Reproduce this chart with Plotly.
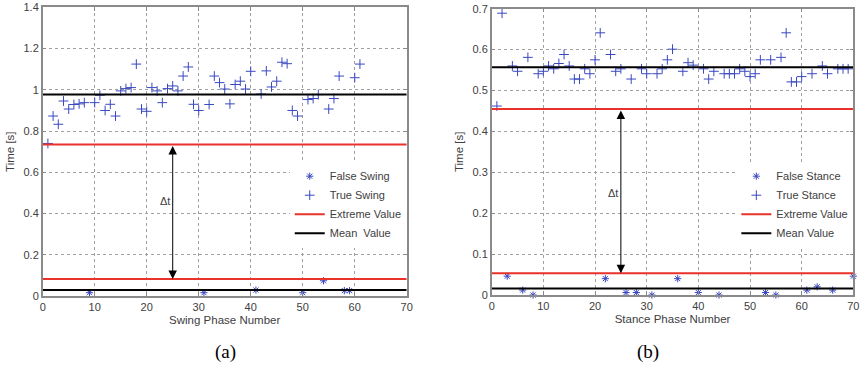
import plotly.graph_objects as go

# ---------------- data: (a) swing ----------------
swing_true_x = [1, 2, 3, 4, 5, 6, 7, 8, 10, 11, 12, 13, 14, 15, 16, 17, 18, 19, 20, 21,
                22, 23, 24, 25, 26, 27, 28, 29, 30, 32, 33, 34, 35, 36, 37, 38, 39, 40,
                42, 43, 44, 45, 46, 47, 48, 49, 51, 52, 53, 55, 56, 57, 60, 61]
swing_true_y = [0.74, 0.873, 0.833, 0.946, 0.907, 0.929, 0.932, 0.938, 0.938, 0.974,
                0.90, 0.93, 0.873, 0.995, 1.006, 1.011, 1.125, 0.907, 0.896, 1.011,
                0.995, 0.938, 1.006, 1.019, 0.995, 1.067, 1.111, 0.93, 0.90, 0.929,
                1.067, 1.035, 1.004, 0.932, 1.026, 1.042, 1.004, 1.09,
                0.98, 1.092, 1.014, 1.042, 1.134, 1.127, 0.90, 0.873, 0.953, 0.958,
                0.977, 0.907, 0.958, 1.067, 1.059, 1.125]
swing_false_x = [9, 31, 41, 50, 54, 58, 59]
swing_false_y = [0.016, 0.016, 0.029, 0.016, 0.074, 0.026, 0.026]
swing_extreme = [0.735, 0.082]
swing_mean = [0.977, 0.029]

# ---------------- data: (b) stance ----------------
stance_true_x = [1, 2, 4, 5, 7, 9, 10, 11, 12, 13, 14, 15, 16, 17, 18, 19, 20, 21, 23, 24,
                 25, 27, 29, 30, 32, 33, 34, 35, 37, 38, 39, 41, 42, 43, 45, 46, 47, 48,
                 49, 50, 51, 52, 54, 56, 57, 58, 59, 60, 62, 64, 65, 67, 68, 69]
stance_true_y = [0.462, 0.689, 0.56, 0.547, 0.581, 0.541, 0.547, 0.56, 0.553, 0.566,
                 0.588, 0.56, 0.528, 0.528, 0.553, 0.541, 0.575, 0.641, 0.588, 0.547,
                 0.553, 0.528, 0.553, 0.541, 0.541, 0.553, 0.575, 0.601, 0.547, 0.568,
                 0.562, 0.553, 0.528, 0.547, 0.541, 0.541, 0.541, 0.553, 0.547, 0.534,
                 0.541, 0.575, 0.575, 0.581, 0.641, 0.521, 0.521, 0.534, 0.541, 0.56,
                 0.541, 0.553, 0.553, 0.553]
stance_false_x = [3, 6, 8, 22, 26, 28, 31, 36, 40, 44, 53, 55, 61, 63, 66, 70]
stance_false_y = [0.046, 0.012, 0.0, 0.04, 0.006, 0.006, 0.0, 0.04, 0.006, 0.0,
                  0.006, 0.0, 0.012, 0.02, 0.012, 0.046]
stance_extreme = [0.455, 0.053]
stance_mean = [0.557, 0.016]

x_range = [0, 70]
delta_x = 25

BLUE = "#3a48c0"
RED = "#e8322a"
TXT = "#404040"
FONT = "Liberation Sans, Arial, sans-serif"

fig = go.Figure()


def hline_xy(levels):
    xs, ys = [], []
    for v in levels:
        xs += [x_range[0], x_range[1], None]
        ys += [v, v, None]
    return xs, ys


def add_panel(xa, ya, leg, fx, fy, tx, ty, ext, mean, names):
    fig.add_trace(go.Scatter(x=fx, y=fy, mode="markers", name=names[0],
                             xaxis=xa, yaxis=ya, legend=leg, cliponaxis=False,
                             marker=dict(symbol="asterisk-open", size=6, color=BLUE,
                                         line=dict(color=BLUE, width=1))))
    fig.add_trace(go.Scatter(x=tx, y=ty, mode="markers", name=names[1],
                             xaxis=xa, yaxis=ya, legend=leg, cliponaxis=False,
                             marker=dict(symbol="cross-thin-open", size=7, color=BLUE,
                                         line=dict(color=BLUE, width=1))))
    ex, ey = hline_xy(ext)
    fig.add_trace(go.Scatter(x=ex, y=ey, mode="lines", name=names[2],
                             xaxis=xa, yaxis=ya, legend=leg,
                             line=dict(color=RED, width=2)))
    mx, my = hline_xy(mean)
    fig.add_trace(go.Scatter(x=mx, y=my, mode="lines", name=names[3],
                             xaxis=xa, yaxis=ya, legend=leg,
                             line=dict(color="black", width=2)))


add_panel("x", "y", "legend", swing_false_x, swing_false_y, swing_true_x, swing_true_y,
          swing_extreme, swing_mean,
          ["False Swing", "True Swing", "Extreme Value", "Mean&nbsp; Value"])
add_panel("x2", "y2", "legend2", stance_false_x, stance_false_y, stance_true_x, stance_true_y,
          stance_extreme, stance_mean,
          ["False Stance", "True Stance", "Extreme Value", "Mean Value"])

axis_common = dict(
    showline=True, linecolor="#8a8a8a", linewidth=1.5, mirror="allticks",
    ticks="inside", ticklen=4, tickcolor="#8a8a8a",
    showgrid=True, gridcolor="#a0a0a0", griddash="dot", gridwidth=1,
    zeroline=False, tickfont=dict(family=FONT, size=11, color=TXT),
    automargin=False,
)

fig.update_layout(
    width=861, height=370,
    margin=dict(l=0, r=0, t=0, b=0),
    paper_bgcolor="white", plot_bgcolor="white",
    showlegend=True,
    xaxis=dict(axis_common, domain=[0.0496, 0.4724], range=x_range, dtick=10,
               title=dict(text="Swing Phase Number", standoff=4,
                          font=dict(family=FONT, size=11.5, color=TXT))),
    yaxis=dict(axis_common, domain=[0.2, 0.980], range=[0, 1.4], dtick=0.2,
               title=dict(text="Time [s]", standoff=6,
                          font=dict(family=FONT, size=11.5, color=TXT))),
    xaxis2=dict(axis_common, domain=[0.5711, 0.9911], range=x_range, dtick=10,
                anchor="y2",
                title=dict(text="Stance Phase Number", standoff=4,
                           font=dict(family=FONT, size=11.5, color=TXT))),
    yaxis2=dict(axis_common, domain=[0.2027, 0.9765], range=[0, 0.7], dtick=0.1,
                anchor="x2",
                title=dict(text="Time [s]", standoff=6,
                           font=dict(family=FONT, size=11.5, color=TXT))),
    legend=dict(x=0.4724, xanchor="right", y=0.563, yanchor="top",
                bgcolor="white", borderwidth=0,
                font=dict(family=FONT, size=11, color=TXT),
                tracegroupgap=0, itemwidth=30),
    legend2=dict(x=0.9911, xanchor="right", y=0.563, yanchor="top",
                 bgcolor="white", borderwidth=0,
                 font=dict(family=FONT, size=11, color=TXT),
                 tracegroupgap=0, itemwidth=30),
)

# delta-t arrows
for xa, ya, ext, lab_y in [("x", "y", swing_extreme, 0.46), ("x2", "y2", stance_extreme, 0.25)]:
    fig.add_annotation(x=delta_x, y=ext[1], ax=delta_x, ay=ext[0],
                       xref=xa, yref=ya, axref=xa, ayref=ya,
                       showarrow=True, arrowhead=2, startarrowhead=2,
                       arrowside="end+start", arrowsize=1.7, startarrowsize=1.7,
                       arrowwidth=1, arrowcolor="black", text="")
    fig.add_annotation(x=delta_x - 1.5, y=lab_y, xref=xa, yref=ya, text="Δt",
                       showarrow=False, font=dict(family=FONT, size=11, color=TXT))

# captions
fig.add_annotation(x=0.2475, y=0.048, xref="paper", yref="paper", text="(a)",
                   showarrow=False, yanchor="middle",
                   font=dict(family="Liberation Serif, Times New Roman, serif",
                             size=19, color="black"))
fig.add_annotation(x=0.768, y=0.048, xref="paper", yref="paper", text="(b)",
                   showarrow=False, yanchor="middle",
                   font=dict(family="Liberation Serif, Times New Roman, serif",
                             size=19, color="black"))

fig.write_html("out.html", config={"displayModeBar": False},
               post_script="document.body.style.margin='0px';")
